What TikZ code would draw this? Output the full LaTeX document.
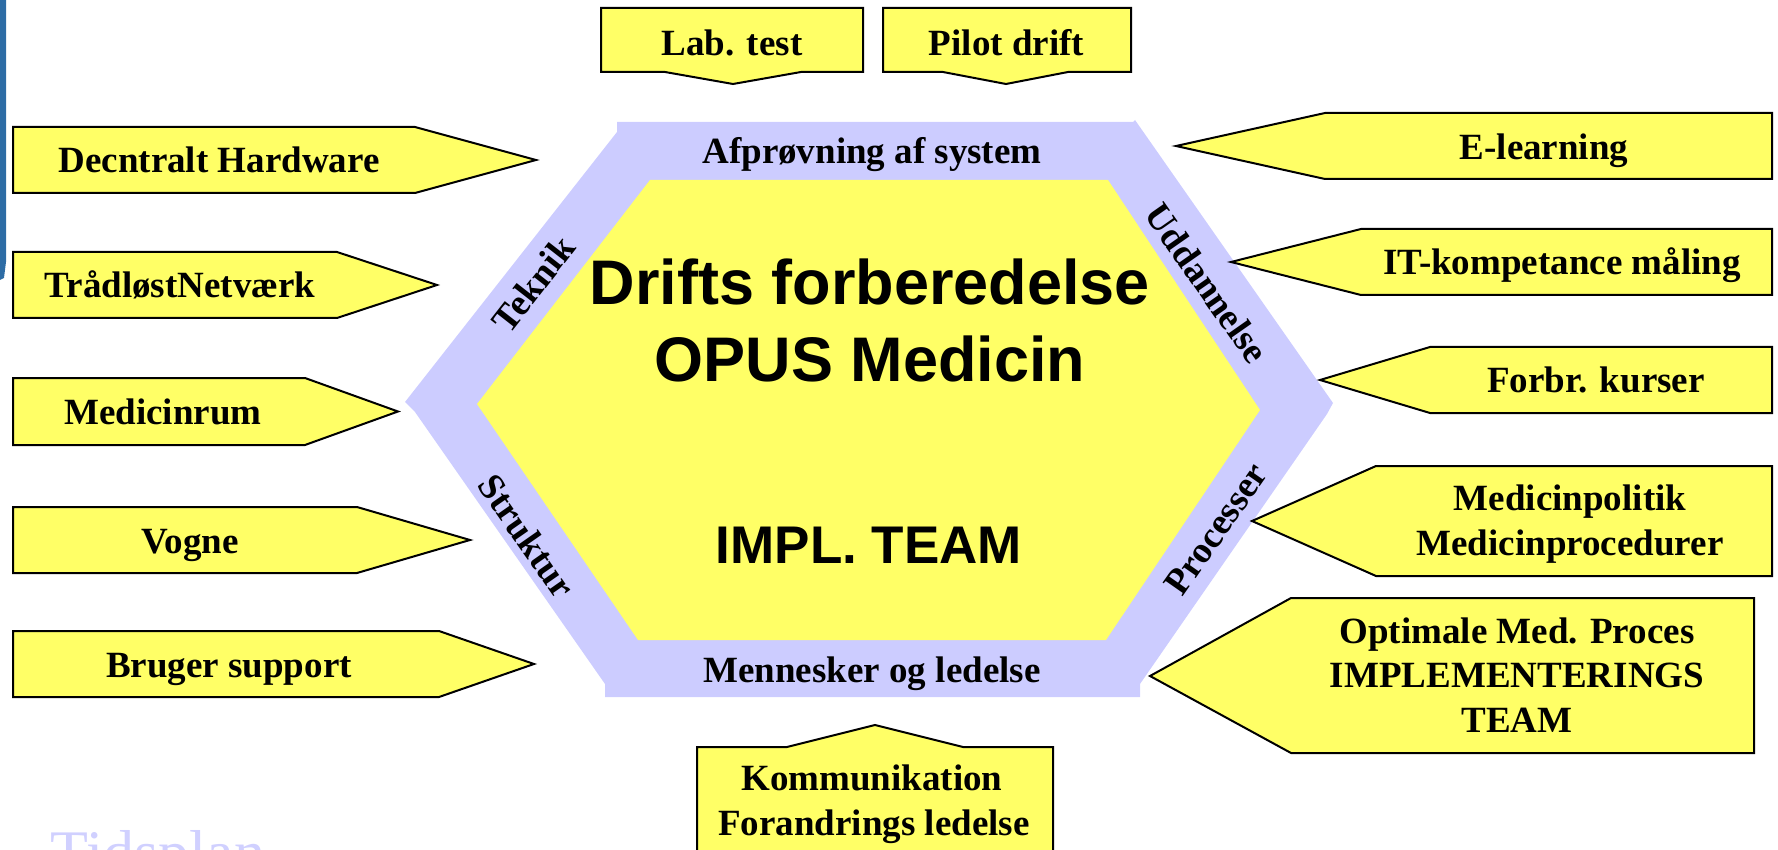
\documentclass[tikz,border=0pt]{standalone}
\usepackage{fontspec}
\setmainfont{Liberation Serif}
\newfontfamily\arialfont{Liberation Sans}
\definecolor{boxyellow}{RGB}{255,255,102}
\definecolor{ringblue}{RGB}{204,204,255}
\definecolor{stripblue}{RGB}{45,108,165}
\definecolor{faintblue}{RGB}{208,208,255}
\begin{document}
\begin{tikzpicture}[x=0.5pt,y=-0.5pt,
  callout/.style={draw=black, line width=1pt, fill=boxyellow, line join=miter},
  lbl/.style={font=\fontsize{18.5}{22.5}\selectfont\bfseries, inner sep=0pt, align=center},
  ringlbl/.style={font=\fontsize{18.5}{22.5}\selectfont\bfseries, inner sep=0pt},
  bigsans/.style={font=\arialfont\fontsize{31.5}{36}\selectfont\bfseries, inner sep=0pt},
  medsans/.style={font=\arialfont\fontsize{26.5}{30}\selectfont\bfseries, inner sep=0pt}]
\useasboundingbox (0,0) rectangle (1778,850);
\clip (0,0) rectangle (1778,850);

% left edge strip of background picture
\fill[stripblue] (0,0) -- (6,0) -- (6,262) -- (4,278) -- (0,280) -- cycle;

% hexagon ring and core
\fill[ringblue] (617,122) -- (1133,122) -- (1135,120) -- (1333,403) -- (1327,414)
  -- (1140,684) -- (1140,697) -- (605,697) -- (605,684) -- (415,412) -- (405,402)
  -- (617,132) -- cycle;
\fill[boxyellow] (650,180) -- (1108,180) -- (1260,410) -- (1106,640) -- (638,640)
  -- (477,404) -- cycle;

% ring labels
\node[ringlbl, anchor=base] (afp) at (872,164) {Afprøvning af system};
\node[ringlbl, anchor=base] (men) at (872,682) {Mennesker og ledelse};
\node[ringlbl, rotate=52] (tek) at (533,284) {Teknik};
\node[ringlbl, rotate=-55] (str) at (527,536) {Struktur};
\node[ringlbl, rotate=-55] (udd) at (1207,283) {Uddannelse};
\node[ringlbl, rotate=55] (pro) at (1216,529) {Processer};

% centre texts
\node[bigsans, anchor=base] (d1) at (870,305) {Drifts forberedelse};
\node[bigsans, anchor=base] (d2) at (870,381) {OPUS Medicin};
\node[medsans, anchor=base] (impl) at (869,563) {IMPL. TEAM};

% left callouts
\draw[callout] (13,127) -- (415,127) -- (536,160) -- (415,193) -- (13,193) -- cycle;
\draw[callout] (13,252) -- (337,252) -- (437,285) -- (337,318) -- (13,318) -- cycle;
\draw[callout] (13,378) -- (305,378) -- (398,411.5) -- (305,445) -- (13,445) -- cycle;
\draw[callout] (13,507) -- (357,507) -- (470,540) -- (357,573) -- (13,573) -- cycle;
\draw[callout] (13,631) -- (439,631) -- (534,664) -- (439,697) -- (13,697) -- cycle;
\node[lbl, anchor=base] (l1) at (219,172.5) {Decntralt Hardware};
\node[lbl, anchor=base] (l2) at (180,298) {TrådløstNetværk};
\node[lbl, anchor=base] (l3) at (163,424) {Medicinrum};
\node[lbl, anchor=base] (l4) at (190,553) {Vogne};
\node[lbl, anchor=base] (l5) at (229,677) {Bruger support};

% right callouts
\draw[callout] (1772,113) -- (1325,113) -- (1176,146) -- (1325,179) -- (1772,179) -- cycle;
\draw[callout] (1772,229) -- (1361,229) -- (1231,262) -- (1361,295) -- (1772,295) -- cycle;
\draw[callout] (1772,347) -- (1430,347) -- (1320,380) -- (1430,413) -- (1772,413) -- cycle;
\draw[callout] (1772,466) -- (1376,466) -- (1252,521) -- (1376,576) -- (1772,576) -- cycle;
\draw[callout] (1754,598) -- (1291,598) -- (1150,676) -- (1291,753) -- (1754,753) -- cycle;
\node[lbl, anchor=base] (r1) at (1544,160) {E-learning};
\node[lbl, anchor=base] (r2) at (1562,275) {IT-kompetance måling};
\node[lbl, anchor=base] (r3) at (1596,393) {Forbr. kurser};
\node[lbl, anchor=base] (r4a) at (1570,510) {Medicinpolitik};
\node[lbl, anchor=base] (r4b) at (1570,555) {Medicinprocedurer};
\node[lbl, anchor=base] (r5a) at (1517,643) {Optimale Med. Proces};
\node[lbl, anchor=base] (r5b) at (1517,687.5) {IMPLEMENTERINGS};
\node[lbl, anchor=base] (r5c) at (1517,732) {TEAM};

% top callouts
\draw[callout] (601,8) -- (863,8) -- (863,72) -- (801,72) -- (733,84) -- (665,72) -- (601,72) -- cycle;
\draw[callout] (883,8) -- (1131,8) -- (1131,72) -- (1068,72) -- (1006,84) -- (943,72) -- (883,72) -- cycle;
\node[lbl, anchor=base] (t1) at (732,56) {Lab. test};
\node[lbl, anchor=base] (t2) at (1006.5,56) {Pilot drift};

% bottom callout
\draw[callout] (697,880) -- (697,747) -- (787,747) -- (875,725) -- (963,747) -- (1053,747) -- (1053,880) -- cycle;
\node[lbl, anchor=base] (b1) at (872,790) {Kommunikation};
\node[lbl, anchor=base] (b2) at (874,835) {Forandrings ledelse};

% faint background title
\node[font=\fontsize{31}{36}\selectfont, text=faintblue, inner sep=0pt, anchor=base west] (tid) at (50,873) {Tidsplan};
\end{tikzpicture}
\end{document}
